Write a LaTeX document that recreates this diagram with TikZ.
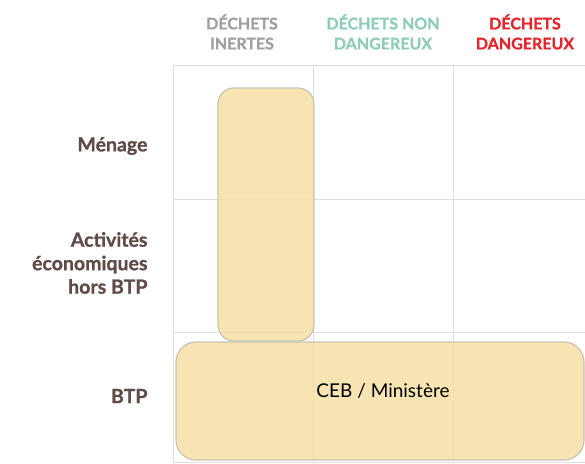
\documentclass[tikz,border=0pt]{standalone}
\usepackage{fontspec}
\setmainfont{Lato}
\newfontfamily\grasfont{Lato Bold}[FakeBold=1]
\usepackage{xcolor}
\usetikzlibrary{positioning}
\definecolor{grille}{HTML}{DEDEDE}
\definecolor{jaune}{HTML}{F5E1A4}
\definecolor{bordzone}{HTML}{C9C2B2}
\definecolor{brun}{HTML}{5F4B47}
\definecolor{gris}{HTML}{A0A0A0}
\definecolor{vert}{HTML}{8FCDB7}
\definecolor{rouge}{HTML}{E3262B}
\tikzset{
  entete/.style={
    font=\grasfont\fontsize{16}{20}\selectfont,
    align=center},
  ligne/.style={
    font=\grasfont\fontsize{19.5}{23.5}\selectfont,
    align=right, anchor=east, text=brun},
  zone/.style={
    draw=bordzone, line width=1.2pt,
    fill=jaune, fill opacity=0.85,
    rounded corners=16pt, inner sep=0pt}
  }

\begin{document}
\begin{tikzpicture}[x=1pt, y=-1pt]
      \useasboundingbox (0,0) rectangle (585,463);
      % grille
      \foreach \yy in {65,199,332,462}
        \draw [grille, line width=1pt] (173,\yy) -- (585,\yy);
      \foreach \xx in {173,313,453}
        \draw [grille, line width=1pt] (\xx,65) -- (\xx,462);
      % en-tetes
      \node [entete, text=gris] (inertes) at (242,32) {DÉCHETS\\INERTES};
      \node [entete, text=vert] (nondang) at (383,32) {DÉCHETS NON\\DANGEREUX};
      \node [entete, text=rouge] (dang) at (525,32) {DÉCHETS\\DANGEREUX};
      % lignes
      \node [ligne] (menage) at (151,146) {Ménage};
      \node [ligne] (activites) at (151,263) {Activités\\économiques\\hors BTP};
      \node [ligne] (btp) at (151,396) {BTP};
      % zones
      \node [zone, minimum width=96pt, minimum height=253pt] (colinertes) at (266,214.5) {};
      \node [zone, rounded corners=20pt, minimum width=408pt, minimum height=118pt] (lignebtp) at (380,401) {};
      \node [font=\fontsize{19}{22}\selectfont] (ceb) at (383,391) {CEB / Ministère};
    \end{tikzpicture}
\end{document}
